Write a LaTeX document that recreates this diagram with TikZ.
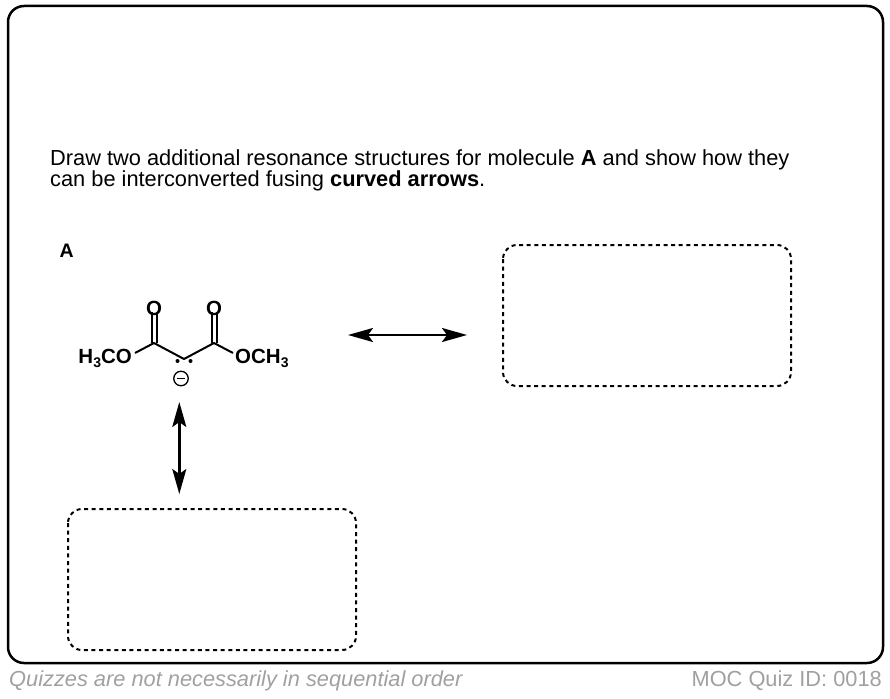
\documentclass[tikz,border=0pt]{standalone}
\usepackage{fontspec}
\setmainfont{Liberation Sans}
\usetikzlibrary{arrows.meta}
\definecolor{footgray}{RGB}{160,160,160}
\begin{document}
\begin{tikzpicture}[x=1pt,y=-1pt,
  qtext/.style={anchor=base west,inner sep=0pt,font=\fontsize{21.8}{24}\selectfont},
  atom/.style={inner sep=0pt,font=\bfseries\fontsize{20.5}{20.5}\selectfont},
  bond/.style={line width=2pt},
  dashbox/.style={line width=2pt,dash pattern=on 4pt off 3.6pt,rounded corners=14pt},
  resarrow/.style={line width=2.4pt,{Stealth[length=25pt,width=14pt,inset=5pt]}-{Stealth[length=25pt,width=14pt,inset=5pt]}},
  foot/.style={inner sep=0pt,text=footgray,font=\fontsize{21.8}{21.8}\selectfont}]
\useasboundingbox (0,0) rectangle (890,698);
\draw[line width=2.5pt,rounded corners=16pt] (8,6) rectangle (883,663);
% question
\node[qtext] (q1) at (50,165) {Draw two additional resonance structures for molecule \textbf{A} and show how they};
\node[qtext] (q2) at (50,186.5) {can be interconverted fusing \textbf{curved arrows}.};
\node[anchor=base west,inner sep=0pt,font=\bfseries\fontsize{19.5}{19.5}\selectfont] (lblA) at (59.5,257) {A};
% molecule
\coordinate (c1) at (154,343);
\coordinate (cc) at (184,359);
\coordinate (c2) at (214,343);
\node[atom,anchor=base] (oL) at (154,315) {O};
\node[atom,anchor=base] (oR) at (214,315) {O};
\node[atom,anchor=base east] (meL) at (132,363.5) {H{\fontsize{14}{14}\selectfont\raisebox{-4pt}{3}}CO};
\node[atom,anchor=base west] (meR) at (235,363.5) {OCH{\fontsize{14}{14}\selectfont\raisebox{-4pt}{3}}};
\draw[bond] ([xshift=-2.5pt]c1) -- ([xshift=-2.5pt,yshift=3pt]oL.south);
\draw[bond] ([xshift=2.5pt]c1) -- ([xshift=2.5pt,yshift=3pt]oL.south);
\draw[bond] ([xshift=-2.5pt]c2) -- ([xshift=-2.5pt,yshift=3pt]oR.south);
\draw[bond] ([xshift=2.5pt]c2) -- ([xshift=2.5pt,yshift=3pt]oR.south);
\coordinate (bL) at (135,353);
\coordinate (bR) at (233,353);
\draw[bond,line join=round] (bL) -- (c1) -- (cc) -- (c2) -- (bR);
\fill (177.5,361) circle (2pt);
\fill (190.5,361) circle (2pt);
\node[draw,circle,line width=1.3pt,minimum size=14.5pt,inner sep=0pt] (neg) at (181,378.5) {};
\draw[line width=1.4pt] ([xshift=-4pt]neg.center) -- ([xshift=4pt]neg.center);
% arrows
\coordinate (hA) at (348,335);
\coordinate (hB) at (467,335);
\draw[resarrow] (hA) -- (hB);
\coordinate (vA) at (179.3,402);
\coordinate (vB) at (179.3,494);
\draw[resarrow] (vA) -- (vB);
% boxes
\draw[dashbox] (503,245) rectangle (791,386);
\draw[dashbox] (68,509) rectangle (356,650);
% footer
\node[foot,anchor=base west,font=\itshape\fontsize{21.8}{21.8}\selectfont] (f1) at (9,686) {Quizzes are not necessarily in sequential order};
\node[foot,anchor=base east] (f2) at (882,686) {MOC Quiz ID: 0018};
\end{tikzpicture}
\end{document}
